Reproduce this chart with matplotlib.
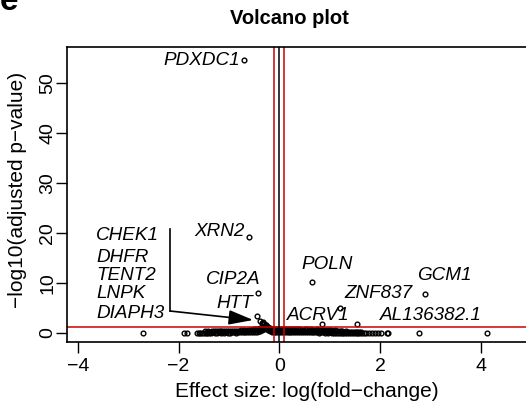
import numpy as np
import matplotlib
matplotlib.use("Agg")
import matplotlib.pyplot as plt

plt.rcParams['font.family'] = ['Liberation Sans', 'DejaVu Sans']

# named genes: log fold change, -log10(adj p)
gene_names = ["PDXDC1", "XRN2", "CIP2A", "HTT", "POLN", "GCM1", "ZNF837", "ACRV1", "AL136382.1"]
gene_fc = [-0.70, -0.61, -0.42, -0.44, 0.65, 2.90, 1.20, 0.84, 1.54]
gene_p = [54.6, 19.3, 8.1, 3.5, 10.3, 7.8, 5.1, 1.85, 1.9]

# the group pointed at by the arrow (CHEK1, DHFR, TENT2, LNPK, DIAPH3)
group_names = ["CHEK1", "DHFR", "TENT2", "LNPK", "DIAPH3"]
group_fc = [-0.38, -0.35, -0.30, -0.26, -0.33]
group_p = [2.5, 2.1, 1.9, 1.6, 2.3]

# background genes near the bottom (dense band)
band_fc = [-1.50, -1.46, -1.43, -1.39, -1.35, -1.31, -1.28, -1.24, -1.20, -1.16,
           -1.13, -1.09, -1.05, -1.01, -0.98, -0.94, -0.90, -0.86, -0.83, -0.79,
           -0.75, -0.71, -0.68, -0.64, -0.60, -0.56, -0.53, -0.49, -0.45, -0.41,
           -0.38, -0.34, -0.30, -0.26, -0.23, -0.19, -0.15, -0.11, -0.08, -0.04,
           0.00, 0.04, 0.07, 0.11, 0.15, 0.19, 0.22, 0.26, 0.30, 0.34,
           0.37, 0.41, 0.45, 0.49, 0.52, 0.56, 0.60, 0.64, 0.67, 0.71,
           0.75, 0.79, 0.82, 0.86, 0.90, 0.94, 0.97, 1.01, 1.05, 1.09,
           1.12, 1.16, 1.20, 1.24, 1.27, 1.31, 1.35, 1.39, 1.42, 1.46,
           1.50, 1.54, 1.57, 1.61, 1.65]
band_p = [0.05, 0.08, 0.04, 0.10, 0.06, 0.12, 0.05, 0.09, 0.14, 0.07,
          0.11, 0.06, 0.15, 0.10, 0.08, 0.16, 0.12, 0.09, 0.18, 0.13,
          0.20, 0.15, 0.22, 0.18, 0.25, 0.20, 0.28, 0.24, 0.30, 0.35,
          0.42, 0.55, 0.75, 0.95, 0.60, 0.40, 0.30, 0.22, 0.18, 0.15,
          0.12, 0.20, 0.25, 0.18, 0.22, 0.16, 0.24, 0.19, 0.21, 0.15,
          0.23, 0.17, 0.20, 0.14, 0.22, 0.16, 0.19, 0.13, 0.18, 0.12,
          0.16, 0.10, 0.15, 0.12, 0.09, 0.14, 0.08, 0.11, 0.07, 0.10,
          0.06, 0.09, 0.05, 0.08, 0.06, 0.04, 0.07, 0.05, 0.03, 0.06,
          0.04, 0.05, 0.03, 0.04, 0.02]
band_b_fc = [-1.48, -1.44, -1.41, -1.37, -1.33, -1.30, -1.26, -1.22, -1.18, -1.15,
             -1.11, -1.07, -1.03, -1.00, -0.96, -0.92, -0.88, -0.85, -0.81, -0.77,
             -0.73, -0.70, -0.66, -0.62, -0.58, -0.55, -0.51, -0.47, -0.43, -0.40,
             -0.36, -0.32, -0.28, -0.25, -0.21, -0.17, -0.13, -0.10, -0.06, -0.02,
             0.02, 0.05, 0.09, 0.13, 0.17, 0.20, 0.24, 0.28, 0.32, 0.35,
             0.39, 0.43, 0.47, 0.50, 0.54, 0.58, 0.62, 0.65, 0.69, 0.73,
             0.77, 0.80, 0.84, 0.88, 0.92, 0.95, 0.99, 1.03, 1.07, 1.10,
             1.14, 1.18, 1.22, 1.25, 1.29, 1.33, 1.37, 1.40, 1.44, 1.48,
             1.52, 1.55, 1.59, 1.63]
band_b_p = [0.32, 0.28, 0.35, 0.30, 0.38, 0.32, 0.40, 0.34, 0.36, 0.42,
            0.38, 0.44, 0.40, 0.46, 0.42, 0.48, 0.44, 0.50, 0.46, 0.52,
            0.48, 0.54, 0.50, 0.56, 0.52, 0.58, 0.55, 0.60, 0.65, 0.72,
            0.80, 0.95, 1.15, 1.30, 0.90, 0.65, 0.55, 0.50, 0.48, 0.52,
            0.50, 0.54, 0.48, 0.52, 0.46, 0.50, 0.48, 0.52, 0.46, 0.50,
            0.45, 0.48, 0.44, 0.47, 0.43, 0.46, 0.42, 0.45, 0.40, 0.43,
            0.39, 0.42, 0.38, 0.40, 0.36, 0.39, 0.35, 0.37, 0.34, 0.36,
            0.32, 0.35, 0.31, 0.33, 0.30, 0.32, 0.29, 0.30, 0.27, 0.29,
            0.25, 0.27, 0.24, 0.22]
band_c_fc = [-0.55, -0.51, -0.47, -0.43, -0.39, -0.35, -0.31, -0.27, -0.23, -0.19,
             -0.15, -0.11, -0.07, -0.03, 0.02, 0.06, 0.10, 0.14, 0.18, 0.22,
             0.26, 0.30, 0.34, 0.38, 0.42, 0.46, 0.50, 0.54, 0.58, 0.62,
             0.66, 0.70, 0.74, 0.78, 0.82, 0.86, 0.90, 0.94, 0.98, 1.02,
             1.06, 1.10]
band_c_p = [0.70, 0.75, 0.80, 0.85, 0.95, 1.10, 1.35, 1.55, 1.15, 0.95,
            0.85, 0.80, 0.75, 0.80, 0.85, 0.80, 0.90, 0.85, 0.80, 0.85,
            0.75, 0.80, 0.85, 0.75, 0.80, 0.70, 0.75, 0.80, 0.70, 0.75,
            0.65, 0.70, 0.75, 0.65, 0.70, 0.60, 0.65, 0.55, 0.60, 0.55,
            0.50, 0.55]
sparse_fc = [-2.71, -1.89, -1.83, -1.64, -1.60, -1.57, -1.54,
             1.69, 1.73, 1.78, 1.84, 1.90, 1.96, 2.02, 2.13, 2.16, 2.78, 4.13]
sparse_p = [0.02, 0.03, 0.02, 0.04, 0.03, 0.05, 0.03,
            0.10, 0.05, 0.04, 0.02, 0.03, 0.02, 0.03, 0.03, 0.02, 0.02, 0.03]

fig = plt.figure(figsize=(5.26, 4.03), dpi=100)
W, H = 526.0, 403.0
# axes placed in pixels; right edge runs past the figure like the reference crop
ax_left, ax_right, ax_top, ax_bottom = 66.7, 536.3, 47.0, 341.7
ax = fig.add_axes([ax_left / W, 1 - ax_bottom / H, (ax_right - ax_left) / W, (ax_bottom - ax_top) / H])
ax.set_xlim(-4.22, 5.10)
ax.set_ylim(-1.74, 57.2)

mk = dict(linestyle='none', marker='o', mfc='none', mec='black', ms=3.4, mew=1.0)
ax.plot(band_fc, band_p, **mk)
ax.plot(band_b_fc, band_b_p, **mk)
ax.plot(band_c_fc, band_c_p, **mk)
ax.plot(sparse_fc, sparse_p, **mk)
ax.plot(gene_fc, gene_p, **mk)
ax.plot(group_fc, group_p, **mk)

ax.axhline(1.3, color='#cc0000', lw=1.1)
ax.axvline(0, color='black', lw=1.1)
ax.axvline(-0.1, color='#cc0000', lw=1.1)
ax.axvline(0.1, color='#cc0000', lw=1.1)

lab = dict(fontsize=13.6, style='italic', va='center')
ax.text(-0.78, 54.5, "PDXDC1", ha='right', **lab)
ax.text(-0.68, 20.2, "XRN2", ha='right', **lab)
ax.text(-0.38, 10.8, "CIP2A", ha='right', **lab)
ax.text(-0.52, 6.0, "HTT", ha='right', **lab)
ax.text(0.44, 13.7, "POLN", ha='left', **lab)
ax.text(2.73, 11.4, "GCM1", ha='left', **lab)
ax.text(1.30, 7.8, "ZNF837", ha='left', **lab)
ax.text(0.16, 3.5, "ACRV1", ha='left', **lab)
ax.text(2.00, 3.4, "AL136382.1", ha='left', **lab)

group_y = [19.4, 15.2, 11.4, 7.8, 4.0]
for name, yy in zip(group_names, group_y):
    ax.text(-3.64, yy, name, ha='left', **lab)

ax.plot([-2.17, -2.17], [20.8, 4.4], color='black', lw=1.2)
ax.annotate("", xy=(-0.52, 2.6), xytext=(-2.17, 4.4),
            arrowprops=dict(arrowstyle='-|>,head_length=1.5,head_width=0.45',
                            mutation_scale=10, color='black', lw=1.2,
                            shrinkA=0, shrinkB=0))

ax.set_xticks([-4, -2, 0, 2, 4])
ax.set_yticks([0, 10, 20, 30, 40, 50])
ax.tick_params(direction='out', length=7.7, width=1.0, labelsize=14)
ax.tick_params(axis='x', pad=4)
ax.tick_params(axis='y', labelrotation=90, pad=0)
for t in ax.get_yticklabels():
    t.set_va('center')
for s in ax.spines.values():
    s.set_linewidth(1.2)

fig.text(289 / W, 1 - 18 / H, "Volcano plot", ha='center', va='center', fontsize=14.5, weight='bold')
fig.text(306.5 / W, 1 - 397 / H, "Effect size: log(fold\u2212change)", ha='center', va='baseline', fontsize=15)
fig.text(17.5 / W, 1 - 189.5 / H, "\u2212log10(adjusted p\u2212value)", ha='center', va='center',
         rotation=90, fontsize=15)
fig.text(0.0, 1 - 10 / H, "e", ha='left', va='baseline', fontsize=24, weight='bold')

fig.savefig("out.png", dpi=100)
